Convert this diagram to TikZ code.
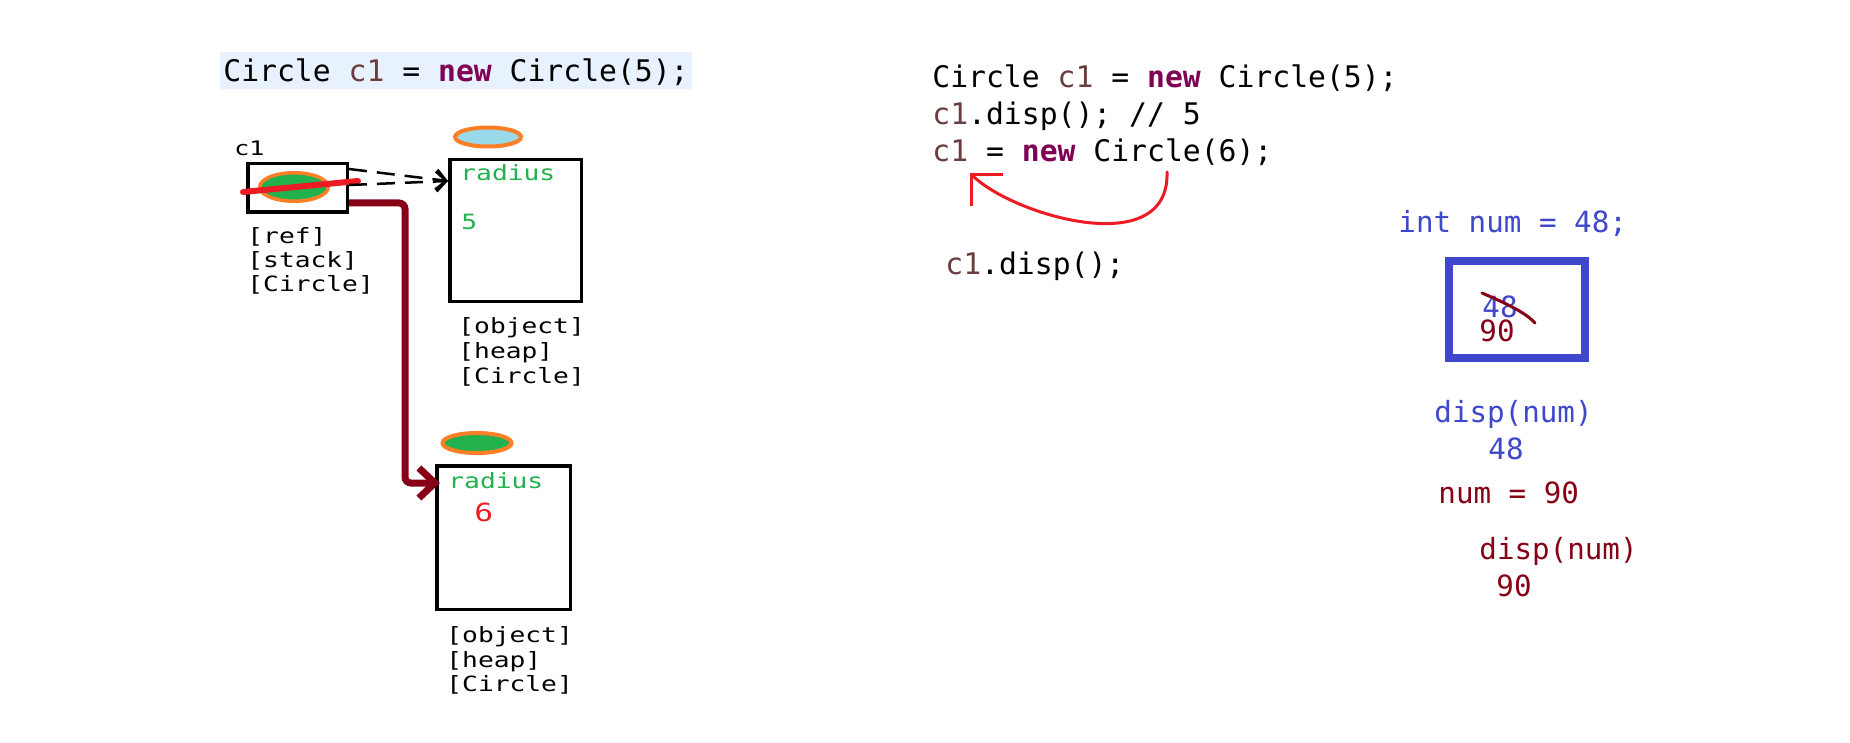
\documentclass[tikz,border=0pt]{standalone}
\usepackage{fontspec}
\setmonofont{DejaVu Sans Mono}
\newfontfamily\lblfont[FakeStretch=1.25]{DejaVu Sans Mono}
\usetikzlibrary{arrows.meta, shapes, positioning}

\definecolor{codebg}{HTML}{E8F2FE}
\definecolor{varbrown}{HTML}{6A3E3E}
\definecolor{kwpurple}{HTML}{7F0055}
\definecolor{paintgreen}{HTML}{22B14C}
\definecolor{paintorange}{HTML}{FF7F27}
\definecolor{paintsky}{HTML}{99D9EA}
\definecolor{paintred}{HTML}{ED1C24}
\definecolor{paintmaroon}{HTML}{880015}
\definecolor{paintblue}{HTML}{3F48CC}

\tikzset{
  code/.style={font=\ttfamily\fontsize{14.86}{18}\selectfont, anchor=base west, inner sep=0pt},
  note/.style={font=\ttfamily\fontsize{14.6}{18}\selectfont, anchor=base west, inner sep=0pt},
  lbl/.style={font=\lblfont\fontsize{10.5}{13}\selectfont, anchor=base west, inner sep=0pt},
  memcell/.style={draw, line width=1.75pt, inner sep=0pt},
  blob/.style={ellipse, draw=paintorange, line width=2pt, inner sep=0pt},
  ptr/.style={line width=1.25pt, dash pattern=on 9pt off 5pt, -{Straight Barb[length=5pt,width=10pt]}},
  refline/.style={paintmaroon, line width=3.5pt, rounded corners=3pt, -{Straight Barb[length=8pt,width=15pt]}},
  pen/.style={line width=1.5pt, line cap=round}
}

\newcommand{\cv}{\textcolor{varbrown}{c1}}
\newcommand{\kwnew}{\textcolor{kwpurple}{\textbf{new}}}

\begin{document}
\begin{tikzpicture}[x=0.5pt,y=-0.5pt]
\fill[white] (0,0) rectangle (1850,743);

% left: stack and heap
\node[code, fill=codebg, inner xsep=1.5pt, text height=15pt, text depth=3.5pt] (decl) at (220,82)
  {Circle \cv{} = \kwnew{} Circle(5);};

\node[lbl, font=\lblfont\fontsize{10}{12}\selectfont] (c1name) at (234,156) {c1};
\node[memcell, minimum width=49.75pt, minimum height=24.25pt] (refbox) at (297.5,188) {};
\node[blob, fill=paintgreen, draw=paintorange, line width=1.75pt, minimum width=34.25pt, minimum height=14.25pt] (refblob) at (294,187) {};
\draw[paintred, line width=3pt, line cap=round] (243,192) -- (358,181);
\node[lbl] (refl1) at (247,243) {[ref]};
\node[lbl] (refl2) at (247,267) {[stack]};
\node[lbl] (refl3) at (247,291) {[Circle]};

\node[blob, fill=paintsky, minimum width=33pt, minimum height=9.5pt] (obj1) at (488,137) {};
\node[memcell, minimum width=65.75pt, minimum height=70.75pt] (heap1) at (515.5,230.5) {};
\node[lbl, text=paintgreen] (rad1) at (460,181) {radius};
\node[lbl, text=paintgreen] (val1) at (461,229) {5};
\node[lbl] (h1l1) at (458,333) {[object]};
\node[lbl] (h1l2) at (458,358) {[heap]};
\node[lbl] (h1l3) at (458,383) {[Circle]};

\node[blob, fill=paintgreen, minimum width=34.5pt, minimum height=10pt] (obj2) at (477,443) {};
\node[memcell, minimum width=66.75pt, minimum height=71.75pt] (heap2) at (503.5,537.5) {};
\node[lbl, text=paintgreen] (rad2) at (448,488) {radius};
\node[lbl, text=paintred, font=\lblfont\fontsize{12.5}{14}\selectfont] (val2) at (474,521) {6};
\node[lbl] (h2l1) at (446,642) {[object]};
\node[lbl] (h2l2) at (446,667) {[heap]};
\node[lbl] (h2l3) at (446,691) {[Circle]};

\draw[ptr] ([yshift=-3.5pt]refbox.north east) -- (heap1.west |- rad1.base);
\draw[ptr] ([yshift=-11.5pt]refbox.north east) -- (heap1.west |- rad1.base);
\draw[refline] ([yshift=5.5pt]refbox.south east) -- ++(56,0)
  |- ([xshift=2.5pt,yshift=2.5pt]heap2.west |- rad2.base);

% right: code
\node[code] (code1) at (932,88) {Circle \cv{} = \kwnew{} Circle(5);};
\node[code] (code2) at (932,125) {\cv.disp(); // 5};
\node[code] (code3) at (932,162) {\cv{} = \kwnew{} Circle(6);};
\node[code] (code4) at (945,274) {\cv.disp();};
\coordinate (rhs) at (1167,172);
\coordinate (lhs) at (970,173);
\draw[pen, paintred, -{Straight Barb[length=11pt,width=22pt]}] (rhs) .. controls (1170,262) and (1012,215) .. (lhs);

% right: primitive
\node[note, text=paintblue] (decl2) at (1398,233) {int num = 48;};
\node[draw=paintblue, line width=4pt, minimum width=68pt, minimum height=48.5pt] (numbox) at (1517,309.5) {};
\node[note, text=paintblue, text depth=0pt] (old) at (1482,317) {48};
\node[note, text=paintmaroon, text height=10.5pt] (new) at (1479,341) {90};
\draw[pen, paintmaroon] (1482,293) .. controls (1505,303) and (1525,312) .. (1535,323);
\node[note, text=paintblue] (call1) at (1434,422) {disp(num)};
\node[note, text=paintblue] (arg1) at (1488,459) {48};
\node[note, text=paintmaroon] (assign) at (1438,503) {num = 90};
\node[note, text=paintmaroon] (call2) at (1479,559) {disp(num)};
\node[note, text=paintmaroon] (arg2) at (1496,596) {90};
\end{tikzpicture}
\end{document}
